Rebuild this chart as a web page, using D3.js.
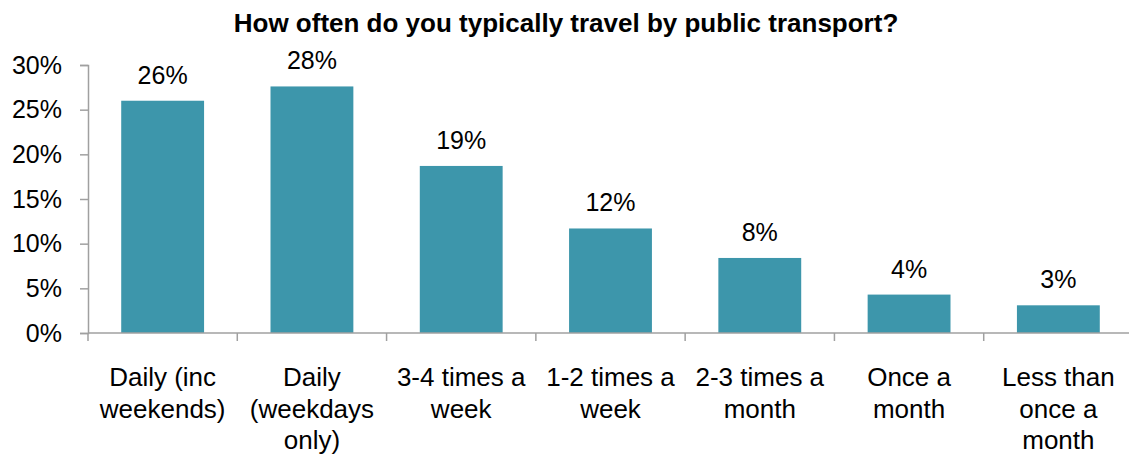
<!DOCTYPE html>
<html lang="en">
<head>
    <meta charset="UTF-8">
    <title>Public transport</title>
    <style>
        body { margin: 0; background: #fff; }
        text { font-family: "Liberation Sans", Arial, sans-serif; fill: #000; }
    </style>
</head>
<body>
<svg id="chart" width="1129" height="454"></svg>
<script src="https://d3js.org/d3.v7.min.js"></script>
<script>
    /* global d3 */

    // categories, split into the lines shown under each bar
    const categories = [
        ["Daily (inc", "weekends)"],
        ["Daily", "(weekdays", "only)"],
        ["3-4 times a", "week"],
        ["1-2 times a", "week"],
        ["2-3 times a", "month"],
        ["Once a", "month"],
        ["Less than", "once a", "month"]
    ];
    const values = [26.0, 27.6, 18.7, 11.7, 8.4, 4.3, 3.1];
    const yTicks = [0, 5, 10, 15, 20, 25, 30];
    const title = "How often do you typically travel by public transport?";

    let svg = d3.select("#chart"),
        plotLeft = 88, plotRight = 1133, plotTop = 65, plotBottom = 333;

    let x = d3.scaleBand()
        .domain(d3.range(values.length))
        .range([plotLeft, plotRight])
        .paddingInner(0.445)
        .paddingOuter(0.2225);

    let y = d3.scaleLinear()
        .domain([0, 30])
        .range([plotBottom, plotTop]);

    svg.append("text")
        .attr("x", 566)
        .attr("y", 32)
        .attr("text-anchor", "middle")
        .style("font-weight", "bold")
        .style("font-size", "26px")
        .text(title);

    // bars
    svg.append("g").selectAll("rect")
        .data(values)
        .join("rect")
        .attr("x", (d, i) => x(i))
        .attr("width", x.bandwidth())
        .attr("y", d => y(d))
        .attr("height", d => y(0) - y(d))
        .attr("fill", "#3d96ab");

    // value labels
    svg.append("g").selectAll("text")
        .data(values)
        .join("text")
        .attr("x", (d, i) => x(i) + x.bandwidth() / 2)
        .attr("y", d => y(d) - 17)
        .attr("text-anchor", "middle")
        .style("font-size", "25px")
        .text(d => Math.round(d) + "%");

    // y axis
    let yAxis = svg.append("g")
        .attr("transform", "translate(" + plotLeft + ",0)")
        .call(d3.axisLeft(y).tickValues(yTicks).tickSize(8).tickPadding(18)
            .tickFormat(d => d + "%"));
    yAxis.attr("font-size", null).attr("font-family", null);
    yAxis.select(".domain").attr("stroke", "#a0a0a0").attr("stroke-width", 1.5);
    yAxis.selectAll(".tick line").attr("stroke", "#a0a0a0").attr("stroke-width", 1.5);
    yAxis.selectAll(".tick text")
        .style("font-size", "25px")
        .attr("fill", null);

    // x axis line with boundary ticks
    let step = x.step();
    let bounds = d3.range(values.length + 1).map(i => plotLeft + i * step);
    svg.append("line")
        .attr("x1", plotLeft).attr("x2", plotRight)
        .attr("y1", plotBottom).attr("y2", plotBottom)
        .attr("stroke", "#a0a0a0").attr("stroke-width", 1.5);
    svg.append("g").selectAll("line")
        .data(bounds)
        .join("line")
        .attr("x1", d => d).attr("x2", d => d)
        .attr("y1", plotBottom).attr("y2", plotBottom + 8)
        .attr("stroke", "#a0a0a0").attr("stroke-width", 1.5);

    // category labels
    let cat = svg.append("g").selectAll("text")
        .data(categories)
        .join("text")
        .attr("text-anchor", "middle")
        .style("font-size", "26px");
    cat.each(function (lines, i) {
        d3.select(this).selectAll("tspan")
            .data(lines)
            .join("tspan")
            .attr("x", x(i) + x.bandwidth() / 2)
            .attr("y", (d, j) => 386 + j * 31.5)
            .text(d => d);
    });
</script>
</body>
</html>
